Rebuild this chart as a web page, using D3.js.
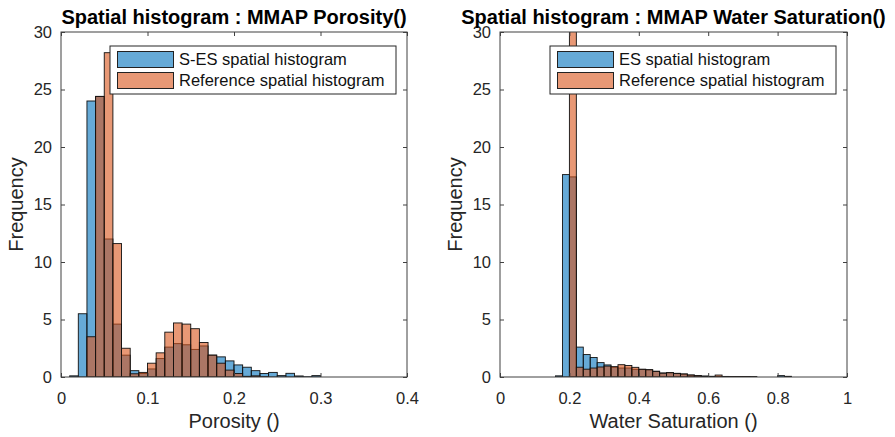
<!DOCTYPE html>
<html>
<head>
<meta charset="utf-8">
<script src="https://cdn.jsdelivr.net/npm/d3@7"></script>
<style>
body { margin: 0; background: #fff; }
svg { font-family: "Liberation Sans", Arial, Helvetica, sans-serif; }
</style>
</head>
<body>
<svg id="fig" width="895" height="437"></svg>
<script>
// porosity histogram : bins of 0.01, first bin starts at 0.01
var poroStart = 0.01;
var poroWidth = 0.01;
var poroES  = [0.1, 5.5, 24.0, 24.4, 12.0, 4.6, 1.9, 0.55, 0.3, 0.7, 1.6, 2.6, 2.9, 2.8, 2.4, 2.7, 1.9, 1.75, 1.4, 1.05, 0.85, 0.55, 0.3, 0.4, 0.12, 0.32, 0.09, 0.02, 0.12];
var poroRef = [0, 0, 3.5, 24.4, 28.2, 11.6, 2.5, 0.28, 0.4, 1.2, 2.1, 3.9, 4.7, 4.6, 4.2, 3.0, 1.9, 1.2, 0.6, 0.3, 0.06, 0.1, 0.02, 0, 0, 0, 0, 0, 0];

// water saturation histogram : bins of 0.02, first bin starts at 0.16
var swStart = 0.16;
var swWidth = 0.02;
var swES  = [0.1, 17.6, 17.4, 2.6, 1.95, 1.7, 1.25, 1.05, 0.85, 0.78, 0.78, 0.67, 0.67, 0.63, 0.5, 0.35, 0.38, 0.32, 0.26, 0.17, 0.12, 0.09, 0.06, 0.05, 0.05, 0.04, 0.04, 0.04, 0.03, 0, 0, 0, 0.12, 0.06];
var swRef = [0, 0, 45, 0.85, 0.68, 0.78, 0.87, 0.95, 0.9, 1.07, 1.0, 0.84, 0.67, 0.63, 0.49, 0.33, 0.37, 0.31, 0.26, 0.17, 0.11, 0.05, 0.05, 0.17, 0.04, 0.02, 0.02, 0.02, 0.01, 0, 0, 0, 0, 0];

var poroTicks = [0, 0.1, 0.2, 0.3, 0.4];
var swTicks = [0, 0.2, 0.4, 0.6, 0.8, 1];
var freqTicks = [0, 5, 10, 15, 20, 25, 30];

var fontStr = '"Liberation Sans", Arial, Helvetica, sans-serif';
var axisColor = "#404040";
var blueFace = "rgb(0,114,189)";
var orangeFace = "rgb(217,83,25)";

d3.select(window).on('load', init);

function init() {
    var svg = d3.select('#fig');

    drawPanel(svg, {
        id: "poro", left: 61, right: 407, top: 32, bottom: 377,
        xmax: 0.4, xticks: poroTicks,
        start: poroStart, width: poroWidth, es: poroES, ref: poroRef,
        title: "Spatial histogram : MMAP Porosity()",
        xlabel: "Porosity ()",
        labels: ["S-ES spatial histogram", "Reference spatial histogram"],
        legX: 110, legW: 286
    });

    drawPanel(svg, {
        id: "sw", left: 500, right: 847, top: 32, bottom: 377,
        xmax: 1, xticks: swTicks,
        start: swStart, width: swWidth, es: swES, ref: swRef,
        title: "Spatial histogram : MMAP Water Saturation()",
        xlabel: "Water Saturation ()",
        labels: ["ES spatial histogram", "Reference spatial histogram"],
        legX: 550, legW: 286
    });
}

function drawPanel(svg, p) {
    var x = d3.scaleLinear().domain([0, p.xmax]).range([p.left, p.right]);
    var y = d3.scaleLinear().domain([0, 30]).range([p.bottom, p.top]);
    var fmt = function(d) { return String(d); };

    var g = svg.append("g");

    // clip to axes box so the tall bar is cut at 30
    svg.append("clipPath").attr("id", "clip-" + p.id)
        .append("rect")
        .attr("x", p.left).attr("y", p.top)
        .attr("width", p.right - p.left).attr("height", p.bottom - p.top);

    var bars = g.append("g").attr("clip-path", "url(#clip-" + p.id + ")");

    function drawSeries(vals, color) {
        var data = vals.map(function(v, i) {
            return {x0: p.start + i * p.width, x1: p.start + (i + 1) * p.width, v: v};
        }).filter(function(d) { return d.v > 0; });

        bars.append("g").selectAll("rect")
            .data(data)
            .enter()
            .append("rect")
            .attr("x", function(d) { return x(d.x0); })
            .attr("width", function(d) { return x(d.x1) - x(d.x0); })
            .attr("y", function(d) { return y(d.v); })
            .attr("height", function(d) { return y(0) - y(d.v); })
            .attr("fill", color)
            .attr("fill-opacity", 0.6)
            .attr("stroke", "#111")
            .attr("stroke-width", 0.9);
    }
    drawSeries(p.es, blueFace);
    drawSeries(p.ref, orangeFace);

    // axes, ticks pointing inward like matlab
    var axes = [
        {a: d3.axisBottom(x).tickValues(p.xticks).tickFormat(fmt).tickPadding(15), t: "translate(0," + p.bottom + ")"},
        {a: d3.axisTop(x).tickValues(p.xticks).tickFormat(""), t: "translate(0," + p.top + ")"},
        {a: d3.axisLeft(y).tickValues(freqTicks).tickFormat(fmt).tickPadding(9), t: "translate(" + p.left + ",0)"},
        {a: d3.axisRight(y).tickValues(freqTicks).tickFormat(""), t: "translate(" + p.right + ",0)"}
    ];
    axes.forEach(function(ax) {
        g.append("g")
            .attr("transform", ax.t)
            .call(ax.a.tickSizeInner(-4).tickSizeOuter(0))
            .attr("font-size", 16.5)
            .attr("font-family", fontStr)
            .attr("color", axisColor)
            .call(function(s) { s.select(".domain").remove(); })
            .selectAll("text").attr("fill", "#262626");
    });

    g.append("rect")
        .attr("x", p.left).attr("y", p.top)
        .attr("width", p.right - p.left).attr("height", p.bottom - p.top)
        .attr("fill", "none")
        .attr("stroke", axisColor)
        .attr("stroke-width", 1);

    // title and labels
    var cx = (p.left + p.right) / 2;
    g.append("text")
        .attr("x", cx).attr("y", 24)
        .attr("text-anchor", "middle")
        .attr("font-size", 20).attr("font-weight", "bold")
        .attr("fill", "#000")
        .text(p.title);

    g.append("text")
        .attr("x", cx).attr("y", 428)
        .attr("text-anchor", "middle")
        .attr("font-size", 20)
        .attr("fill", "#262626")
        .text(p.xlabel);

    g.append("text")
        .attr("transform", "translate(" + (p.left - 38) + "," + ((p.top + p.bottom) / 2) + ") rotate(-90)")
        .attr("text-anchor", "middle")
        .attr("font-size", 20)
        .attr("fill", "#262626")
        .text("Frequency");

    // legend
    var leg = g.append("g").attr("transform", "translate(" + p.legX + ",46)");
    leg.append("rect")
        .attr("width", p.legW).attr("height", 48)
        .attr("fill", "#fff")
        .attr("stroke", "#262626")
        .attr("stroke-width", 1);

    var items = [blueFace, orangeFace];
    items.forEach(function(c, i) {
        leg.append("rect")
            .attr("x", 7.5).attr("y", 5.5 + i * 21)
            .attr("width", 56).attr("height", 16)
            .attr("fill", c).attr("fill-opacity", 0.6)
            .attr("stroke", "#222").attr("stroke-width", 1);
        leg.append("text")
            .attr("x", 69).attr("y", 19 + i * 21)
            .attr("font-size", 16.5)
            .attr("fill", "#111")
            .text(p.labels[i]);
    });
}
</script>
</body>
</html>
